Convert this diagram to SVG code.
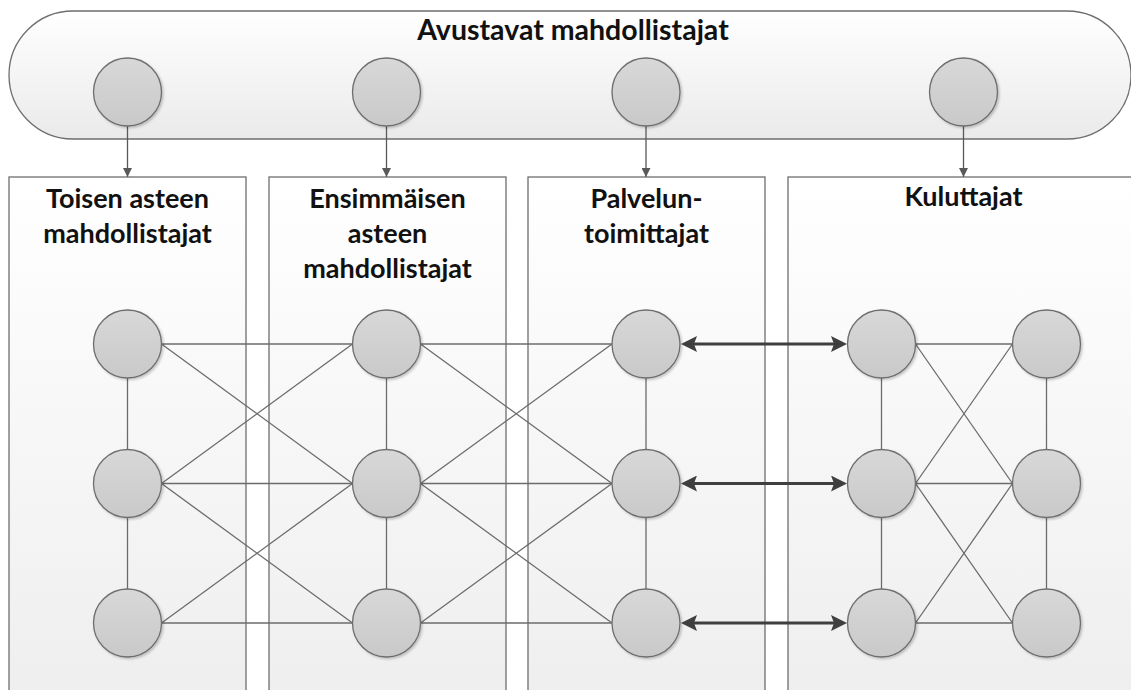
<svg xmlns="http://www.w3.org/2000/svg" width="1131" height="690" viewBox="0 0 1131 690">
  <defs>
    <linearGradient id="panelFill" x1="0" y1="0" x2="0" y2="1">
      <stop offset="0" stop-color="#ffffff"/>
      <stop offset="1" stop-color="#eeeeee"/>
    </linearGradient>
    <linearGradient id="bandFill" x1="0" y1="0" x2="0" y2="1">
      <stop offset="0" stop-color="#ffffff"/>
      <stop offset="1" stop-color="#eaeaea"/>
    </linearGradient>
    <linearGradient id="dotFill" x1="0" y1="0" x2="0" y2="1">
      <stop offset="0" stop-color="#d8d8d8"/>
      <stop offset="1" stop-color="#c9c9c9"/>
    </linearGradient>
    <filter id="soft" x="-20%" y="-20%" width="150%" height="150%">
      <feDropShadow dx="1.5" dy="1.5" stdDeviation="1" flood-color="#000" flood-opacity="0.22"/>
    </filter>
    <marker id="tipSmall" viewBox="0 0 10 10" refX="10" refY="5" markerWidth="10" markerHeight="9" markerUnits="userSpaceOnUse" orient="auto">
      <path d="M0,0 L10,5 L0,10 z" fill="#595959"/>
    </marker>
    <marker id="tipBold" viewBox="0 0 16 16" refX="3" refY="8" markerWidth="16" markerHeight="16" markerUnits="userSpaceOnUse" orient="auto-start-reverse">
      <path d="M0,0 L16,8 L0,16 L3,8 z" fill="#3f3f3f"/>
    </marker>
    <style>
      .band { fill: url(#bandFill); stroke: #6e6e6e; stroke-width: 1.3; }
      .panel { fill: url(#panelFill); stroke: #6e6e6e; stroke-width: 1.3; }
      .dot { fill: url(#dotFill); stroke: #6e6e6e; stroke-width: 1.3; filter: url(#soft); }
      .title { font-family: Lato, "Open Sans", sans-serif; font-weight: bold; font-size: 27px; fill: #111111; text-anchor: middle; }
      .title.big { font-size: 28.5px; }
      .link { stroke: #6b6b6b; stroke-width: 1.3; fill: none; }
      .drop { stroke: #595959; stroke-width: 1.3; fill: none; marker-end: url(#tipSmall); }
      .flow { stroke: #3f3f3f; stroke-width: 3.2; fill: none; marker-start: url(#tipBold); marker-end: url(#tipBold); }
    </style>
  </defs>

  <!-- enabler band across the top -->
  <g id="avustavat">
    <rect class="band" x="9" y="11" width="1122" height="128" rx="64" ry="64"/>
    <text class="title big" x="573" y="39.5">Avustavat mahdollistajat</text>
  </g>

  <!-- column panels -->
  <g id="col-toisen">
    <rect class="panel" x="9" y="177" width="237" height="530"/>
    <text class="title" x="127.5" y="208">Toisen asteen</text>
    <text class="title" x="127.5" y="242.5">mahdollistajat</text>
  </g>
  <g id="col-ensimmaisen">
    <rect class="panel" x="269" y="177" width="237" height="530"/>
    <text class="title" x="387.5" y="208">Ensimmäisen</text>
    <text class="title" x="387.5" y="243">asteen</text>
    <text class="title" x="387.5" y="277.5">mahdollistajat</text>
  </g>
  <g id="col-palvelun">
    <rect class="panel" x="528" y="177" width="237" height="530"/>
    <text class="title" x="646.5" y="208">Palvelun-</text>
    <text class="title" x="646.5" y="242.5">toimittajat</text>
  </g>
  <g id="col-kuluttajat">
    <rect class="panel" x="788" y="177" width="352" height="530"/>
    <text class="title" x="963.5" y="206">Kuluttajat</text>
  </g>

  <!-- connectors -->
  <g id="connectors">
    <!-- band members down to their columns -->
    <line class="drop" x1="127.5" y1="126" x2="127.5" y2="177"/>
    <line class="drop" x1="386.5" y1="126" x2="386.5" y2="177"/>
    <line class="drop" x1="646" y1="126" x2="646" y2="177"/>
    <line class="drop" x1="963.5" y1="126" x2="963.5" y2="177"/>

    <!-- verticals inside each column -->
    <line class="link" x1="127.5" y1="378" x2="127.5" y2="449.5"/>
    <line class="link" x1="127.5" y1="517.5" x2="127.5" y2="589"/>
    <line class="link" x1="386.5" y1="378" x2="386.5" y2="449.5"/>
    <line class="link" x1="386.5" y1="517.5" x2="386.5" y2="589"/>
    <line class="link" x1="646" y1="378" x2="646" y2="449.5"/>
    <line class="link" x1="646" y1="517.5" x2="646" y2="589"/>
    <line class="link" x1="881.5" y1="378" x2="881.5" y2="449.5"/>
    <line class="link" x1="881.5" y1="517.5" x2="881.5" y2="589"/>
    <line class="link" x1="1046.5" y1="378" x2="1046.5" y2="449.5"/>
    <line class="link" x1="1046.5" y1="517.5" x2="1046.5" y2="589"/>

    <!-- second tier to first tier -->
    <line class="link" x1="161.5" y1="344" x2="352.5" y2="344"/>
    <line class="link" x1="161.5" y1="344" x2="352.5" y2="483.5"/>
    <line class="link" x1="161.5" y1="483.5" x2="352.5" y2="344"/>
    <line class="link" x1="161.5" y1="483.5" x2="352.5" y2="483.5"/>
    <line class="link" x1="161.5" y1="483.5" x2="352.5" y2="623"/>
    <line class="link" x1="161.5" y1="623" x2="352.5" y2="483.5"/>
    <line class="link" x1="161.5" y1="623" x2="352.5" y2="623"/>

    <!-- first tier to service providers -->
    <line class="link" x1="420.5" y1="344" x2="612" y2="344"/>
    <line class="link" x1="420.5" y1="344" x2="612" y2="483.5"/>
    <line class="link" x1="420.5" y1="483.5" x2="612" y2="344"/>
    <line class="link" x1="420.5" y1="483.5" x2="612" y2="483.5"/>
    <line class="link" x1="420.5" y1="483.5" x2="612" y2="623"/>
    <line class="link" x1="420.5" y1="623" x2="612" y2="483.5"/>
    <line class="link" x1="420.5" y1="623" x2="612" y2="623"/>

    <!-- consumers among themselves -->
    <line class="link" x1="915.5" y1="344" x2="1012.5" y2="344"/>
    <line class="link" x1="915.5" y1="344" x2="1012.5" y2="483.5"/>
    <line class="link" x1="915.5" y1="483.5" x2="1012.5" y2="344"/>
    <line class="link" x1="915.5" y1="483.5" x2="1012.5" y2="483.5"/>
    <line class="link" x1="915.5" y1="483.5" x2="1012.5" y2="623"/>
    <line class="link" x1="915.5" y1="623" x2="1012.5" y2="483.5"/>
    <line class="link" x1="915.5" y1="623" x2="1012.5" y2="623"/>

    <!-- two-way exchange between providers and consumers -->
    <line class="flow" x1="694" y1="344" x2="834" y2="344"/>
    <line class="flow" x1="694" y1="483.5" x2="834" y2="483.5"/>
    <line class="flow" x1="694" y1="623" x2="834" y2="623"/>
  </g>

  <!-- band members -->
  <g id="band-1"><circle class="dot" cx="127.5" cy="92" r="34"/></g>
  <g id="band-2"><circle class="dot" cx="386.5" cy="92" r="34"/></g>
  <g id="band-3"><circle class="dot" cx="646" cy="92" r="34"/></g>
  <g id="band-4"><circle class="dot" cx="963.5" cy="92" r="34"/></g>

  <!-- second-tier enablers -->
  <g id="toisen-1"><circle class="dot" cx="127.5" cy="344" r="34"/></g>
  <g id="toisen-2"><circle class="dot" cx="127.5" cy="483.5" r="34"/></g>
  <g id="toisen-3"><circle class="dot" cx="127.5" cy="623" r="34"/></g>

  <!-- first-tier enablers -->
  <g id="ensimmaisen-1"><circle class="dot" cx="386.5" cy="344" r="34"/></g>
  <g id="ensimmaisen-2"><circle class="dot" cx="386.5" cy="483.5" r="34"/></g>
  <g id="ensimmaisen-3"><circle class="dot" cx="386.5" cy="623" r="34"/></g>

  <!-- service providers -->
  <g id="palvelun-1"><circle class="dot" cx="646" cy="344" r="34"/></g>
  <g id="palvelun-2"><circle class="dot" cx="646" cy="483.5" r="34"/></g>
  <g id="palvelun-3"><circle class="dot" cx="646" cy="623" r="34"/></g>

  <!-- consumers -->
  <g id="kuluttajat-1"><circle class="dot" cx="881.5" cy="344" r="34"/></g>
  <g id="kuluttajat-2"><circle class="dot" cx="881.5" cy="483.5" r="34"/></g>
  <g id="kuluttajat-3"><circle class="dot" cx="881.5" cy="623" r="34"/></g>
  <g id="kuluttajat-4"><circle class="dot" cx="1046.5" cy="344" r="34"/></g>
  <g id="kuluttajat-5"><circle class="dot" cx="1046.5" cy="483.5" r="34"/></g>
  <g id="kuluttajat-6"><circle class="dot" cx="1046.5" cy="623" r="34"/></g>
</svg>
